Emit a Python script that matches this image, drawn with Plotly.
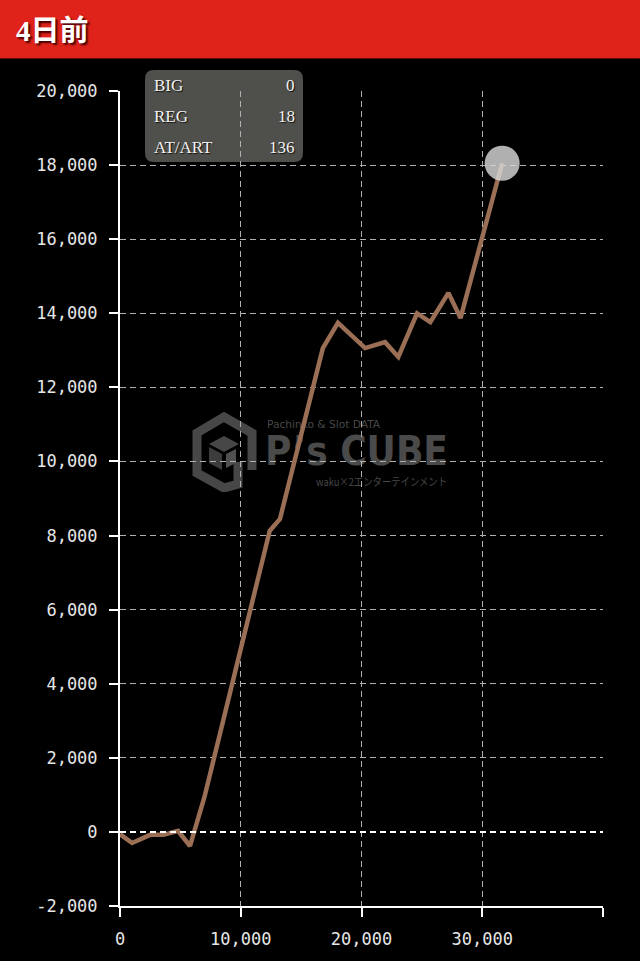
import plotly.graph_objects as go
import urllib.parse

# ---- data ----
games = [0, 1000, 2500, 3600, 4800, 5800, 7000, 12400, 13250, 16800, 18050,
         20300, 21950, 23050, 24600, 25700, 27200, 28200, 31650]
diff = [-60, -300, -80, -80, 30, -380, 950, 8130, 8450, 13060, 13740,
        13060, 13220, 12820, 14000, 13760, 14550, 13870, 18050]

x_tickvals = [0, 10000, 20000, 30000, 40000]
x_ticktext = ["0", "10,000", "20,000", "30,000", ""]
y_tickvals = [-2000, 0, 2000, 4000, 6000, 8000, 10000, 12000, 14000, 16000, 18000, 20000]
y_ticktext = ["-2,000", "0", "2,000", "4,000", "6,000", "8,000", "10,000",
              "12,000", "14,000", "16,000", "18,000", "20,000"]

title_text = "4日前"
stat_labels = ["BIG", "REG", "AT/ART"]
stat_values = ["0", "18", "136"]

# ---- layout geometry (pixels) ----
W, H = 640, 961
L, R, T, B = 120, 37, 91, 55
PW, PH = W - L - R, H - T - B


def px(xp):
    return (xp - L) / PW


def py(yp):
    return (H - B - yp) / PH


fig = go.Figure()
fig.add_trace(go.Scatter(
    x=games, y=diff, mode="lines",
    line=dict(color="#9a6f55", width=4.5),
    hoverinfo="skip", showlegend=False,
))
fig.add_trace(go.Scatter(
    x=games[-1:], y=diff[-1:], mode="markers",
    marker=dict(size=35, color="rgba(215,215,215,0.82)", line=dict(width=0)),
    hoverinfo="skip", showlegend=False,
))

axis_font = dict(family="DejaVu Sans Mono", size=17, color="#e6e6e6")
grid = dict(showgrid=True, gridcolor="#b0b0b0", gridwidth=1, griddash="6px,4px")

fig.update_xaxes(
    range=[0, 40000], tickvals=x_tickvals, ticktext=x_ticktext,
    showline=True, linecolor="#ffffff", linewidth=2,
    ticks="outside", ticklen=9, tickwidth=2, tickcolor="#ffffff",
    tickfont=axis_font, zeroline=False, ticklabelstandoff=8, **grid,
)
fig.update_yaxes(
    range=[-2000, 20000], tickvals=y_tickvals, ticktext=y_ticktext,
    showline=True, linecolor="#ffffff", linewidth=2,
    ticks="outside", ticklen=9, tickwidth=2, tickcolor="#ffffff",
    tickfont=axis_font, zeroline=False, ticklabelstandoff=8, **grid,
)

shapes = []
# dashed zero line
shapes.append(dict(type="line", xref="paper", yref="y", x0=0, x1=1, y0=0, y1=0,
                   line=dict(color="#ffffff", width=2, dash="6px,4px"), layer="above"))
# header bar
shapes.append(dict(type="rect", xref="paper", yref="paper",
                   x0=px(0), x1=px(W), y0=py(58), y1=py(0),
                   fillcolor="#e0231a", line=dict(width=0), layer="above"))
shapes.append(dict(type="line", xref="paper", yref="paper",
                   x0=px(0), x1=px(W), y0=py(58.5), y1=py(58.5),
                   line=dict(color="#5a0c08", width=1), layer="above"))

# rounded stats box
bx0, bx1, by0, by1, rr = 145, 303, 70, 162, 9
rx, ry = rr / PW, rr / PH
X0, X1, Y0, Y1 = px(bx0), px(bx1), py(by1), py(by0)
path = (f"M {X0+rx},{Y1} L {X1-rx},{Y1} Q {X1},{Y1} {X1},{Y1-ry} "
        f"L {X1},{Y0+ry} Q {X1},{Y0} {X1-rx},{Y0} L {X0+rx},{Y0} "
        f"Q {X0},{Y0} {X0},{Y0+ry} L {X0},{Y1-ry} Q {X0},{Y1} {X0+rx},{Y1} Z")
shapes.append(dict(type="path", xref="paper", yref="paper", path=path,
                   fillcolor="rgba(110,110,104,0.72)", line=dict(width=0), layer="below"))
fig.update_layout(shapes=shapes)

annotations = []
annotations.append(dict(
    text=title_text, xref="paper", yref="paper", x=px(14), y=py(31),
    xanchor="left", yanchor="middle", showarrow=False,
    font=dict(family="Liberation Serif, Noto Sans CJK JP", size=29, color="#ffffff",
              weight="bold", shadow="2px 2px 2px #400"),
))
row_y = [85, 116, 147]
for lab, val, yy in zip(stat_labels, stat_values, row_y):
    f = dict(family="Liberation Serif", size=17, color="#f2f2f2", shadow="1px 1px 1px #111")
    annotations.append(dict(text=lab, xref="paper", yref="paper", x=px(152), y=py(yy),
                            xanchor="left", yanchor="middle", showarrow=False, font=f))
    annotations.append(dict(text=val, xref="paper", yref="paper", x=px(297), y=py(yy),
                            xanchor="right", yanchor="middle", showarrow=False, font=f))
fig.update_layout(annotations=annotations)

# watermark (SVG image drawn below the grid)
wm_svg = """<svg xmlns='http://www.w3.org/2000/svg' width='262' height='84' viewBox='0 0 262 84'>
<g fill='none' stroke='#474747' stroke-width='9' stroke-linejoin='miter'>
<path d='M 48 54 L 48 76 L 34 80 L 7 65 L 7 25 L 34 9 L 62 25 L 62 62'/>
</g>
<g fill='#474747'>
<path d='M 34 28 L 49 36 L 34 44 L 19 36 Z'/>
<path d='M 19 39 L 32 46 L 32 62 L 19 55 Z' fill='#3c3c3c'/>
<path d='M 36 46 L 46 41 L 46 55 L 36 60 Z' fill='#505050'/>
</g>
<text x='77' y='20' font-family='DejaVu Sans Condensed, DejaVu Sans' font-size='11' fill='#474747' textLength='113' lengthAdjust='spacingAndGlyphs'>Pachinko &amp; Slot DATA</text>
<text x='75' y='57' font-family='DejaVu Sans' font-weight='bold' font-size='40' fill='#4a4a4a' textLength='183' lengthAdjust='spacingAndGlyphs'>P&#8217;s CUBE</text>
<text x='126' y='78' font-family='Noto Sans CJK JP' font-size='11' fill='#474747' textLength='131' lengthAdjust='spacingAndGlyphs'>waku&#215;2エンターテインメント</text>
</svg>"""
wm_uri = "data:image/svg+xml;charset=utf-8," + urllib.parse.quote(wm_svg)
fig.add_layout_image(dict(
    source=wm_uri, xref="paper", yref="paper", x=px(190), y=py(408),
    sizex=262 / PW, sizey=84 / PH, xanchor="left", yanchor="top",
    sizing="stretch", layer="below", opacity=1,
))

fig.update_layout(
    width=W, height=H,
    margin=dict(l=L, r=R, t=T, b=B, pad=0),
    paper_bgcolor="#000000", plot_bgcolor="#000000",
    showlegend=False,
)

fig.write_html(
    "out.html",
    config={"displayModeBar": False},
    post_script="document.body.style.margin='0';document.body.style.background='#000';",
)
